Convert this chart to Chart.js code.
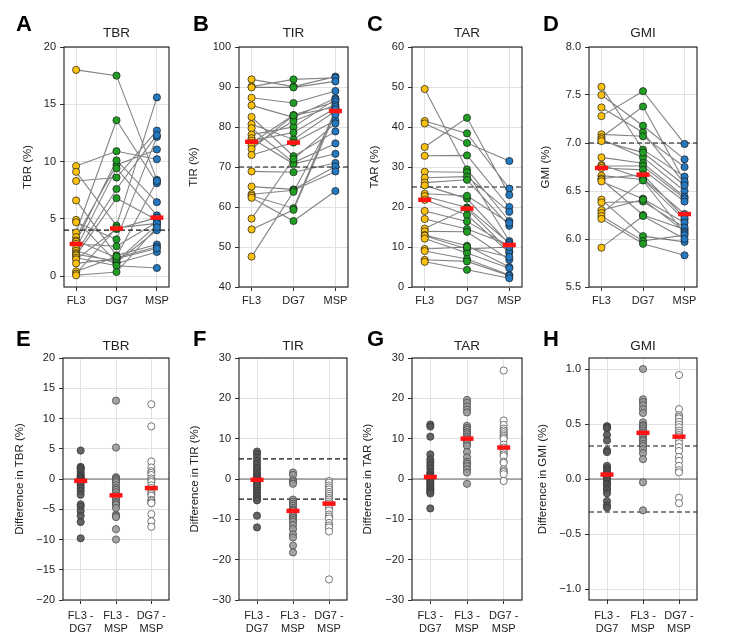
<!DOCTYPE html>
<html>
<head>
<meta charset="utf-8">
<script src="https://cdn.jsdelivr.net/npm/chart.js@4.4.1/dist/chart.umd.min.js"></script>
<style>
  body { margin: 0; background: #fff; }
  .panel { position: absolute; }
</style>
</head>
<body>
<div class="panel" style="left:0;top:0"><canvas id="cA" width="180" height="320"></canvas></div>
<div class="panel" style="left:180px;top:0"><canvas id="cB" width="180" height="320"></canvas></div>
<div class="panel" style="left:360px;top:0"><canvas id="cC" width="180" height="320"></canvas></div>
<div class="panel" style="left:525px;top:0"><canvas id="cD" width="210" height="320"></canvas></div>
<div class="panel" style="left:0;top:320px"><canvas id="cE" width="180" height="321"></canvas></div>
<div class="panel" style="left:180px;top:320px"><canvas id="cF" width="180" height="321"></canvas></div>
<div class="panel" style="left:360px;top:320px"><canvas id="cG" width="180" height="321"></canvas></div>
<div class="panel" style="left:525px;top:320px"><canvas id="cH" width="210" height="321"></canvas></div>
<script>
// categories
const devices = ['FL3', 'DG7', 'MSP'];
const pairs = [['FL3 -', 'DG7'], ['FL3 -', 'MSP'], ['DG7 -', 'MSP']];

// top row: one value per subject, same subject order in each device list
const tbrFL3 = [18.0, 9.6, 9.1, 8.3, 6.6, 4.9, 4.7, 3.8, 3.4, 3.1, 3.0, 2.8, 2.4, 2.2, 2.0, 1.9, 1.8, 1.6, 1.45, 1.1, 0.4, 0.2, 0.06];
const tbrDG7 = [17.5, 10.9, 4.4, 8.6, 1.8, 1.2, 3.2, 13.6, 9.7, 1.6, 10.1, 2.6, 9.4, 1.1, 7.6, 1.3, 6.8, 0.9, 4.1, 1.5, 1.7, 4.2, 0.35];
const tbrMSP = [8.4, 10.2, 15.6, 12.7, 2.75, 4.0, 12.15, 8.1, 11.05, 2.55, 6.45, 4.7, 5.3, 2.1, 12.3, 4.45, 4.9, 0.7, 5.1, 2.4, 8.3, 4.6, 4.25];
const tbrMedians = [2.8, 4.15, 5.1];

const tirFL3 = [91.9, 90.1, 89.9, 87.3, 85.4, 82.5, 80.7, 79.7, 78.1, 77.2, 76.6, 76.0, 75.3, 74.5, 73.0, 68.9, 65.1, 63.2, 62.8, 62.3, 57.1, 54.4, 47.6];
const tirDG7 = [90.1, 91.9, 89.9, 86.0, 82.4, 72.7, 76.9, 71.1, 80.0, 70.8, 78.6, 83.0, 81.5, 82.9, 76.1, 68.7, 64.4, 64.2, 59.7, 56.5, 72.0, 59.3, 63.8];
const tirMSP = [92.6, 92.3, 91.4, 89.0, 87.2, 78.9, 84.0, 75.9, 86.9, 73.3, 84.7, 86.3, 85.5, 85.0, 81.6, 71.0, 70.1, 68.9, 84.4, 64.0, 80.9, 83.5, 83.1];
const tirMedians = [76.3, 76.1, 84.0];

const tarFL3 = [49.5, 41.5, 40.9, 35.0, 32.8, 28.8, 27.3, 26.1, 25.4, 23.3, 22.7, 21.8, 19.0, 17.0, 14.6, 13.9, 13.0, 12.8, 12.1, 9.5, 9.0, 6.8, 6.3];
const tarDG7 = [29.4, 38.4, 36.0, 42.3, 32.9, 28.7, 27.6, 26.8, 22.1, 22.8, 19.9, 18.0, 16.4, 14.5, 19.6, 13.8, 10.3, 9.5, 8.5, 10.0, 7.0, 6.4, 4.3];
const tarMSP = [16.5, 24.6, 31.5, 23.0, 20.0, 11.5, 18.8, 15.3, 10.7, 16.0, 11.0, 8.6, 10.2, 10.5, 9.0, 6.8, 5.0, 10.0, 4.7, 7.5, 3.0, 2.8, 2.2];
const tarMedians = [21.8, 19.6, 10.5];

const gmiFL3 = [7.585, 7.50, 7.37, 7.28, 7.09, 7.06, 7.04, 7.02, 6.85, 6.77, 6.76, 6.74, 6.66, 6.63, 6.62, 6.60, 6.41, 6.38, 6.30, 6.27, 6.24, 6.21, 5.91];
const gmiDG7 = [6.93, 7.18, 7.11, 7.54, 7.07, 7.38, 6.85, 6.90, 6.79, 6.63, 6.76, 6.72, 6.62, 6.67, 6.25, 6.42, 6.03, 6.39, 6.41, 6.61, 5.98, 5.95, 6.24];
const gmiMSP = [6.65, 6.83, 6.58, 6.99, 6.75, 6.60, 6.50, 6.56, 6.44, 6.26, 6.42, 6.39, 6.20, 6.22, 6.10, 6.17, 5.97, 6.12, 6.08, 6.06, 6.04, 5.83, 6.00];
const gmiMedians = [6.74, 6.67, 6.26];

// bottom row: paired differences
const dTbrFL3DG7 = [4.7, 2.0, 1.8, 1.6, 1.2, 0.8, 0.5, 0.3, 0.1, -0.1, -0.2, -0.3, -0.6, -1.0, -1.5, -2.0, -2.6, -4.2, -4.6, -5.3, -6.1, -7.1, -9.8];
const dTbrFL3MSP = [12.95, 5.2, 0.3, 0.1, -0.05, -0.3, -0.55, -1.05, -1.5, -1.8, -2.2, -2.7, -3.0, -3.3, -3.8, -4.0, -4.3, -4.8, -5.9, -6.1, -6.3, -8.3, -10.0];
const dTbrDG7MSP = [12.35, 8.7, 2.9, 1.9, 1.3, 1.0, 0.65, 0.1, -0.2, -0.5, -1.05, -1.5, -1.8, -2.2, -2.5, -2.8, -3.45, -3.6, -3.9, -4.0, -5.8, -7.0, -7.9];
const dTbrMedians = [-0.3, -2.7, -1.5];

const dTirFL3DG7 = [6.8, 6.2, 5.3, 4.5, 3.7, 2.8, 2.3, 1.5, 0.9, 0.4, -0.1, -0.2, -0.5, -1.0, -1.6, -2.2, -2.9, -3.5, -4.2, -4.8, -5.3, -9.1, -12.0];
const dTirFL3MSP = [1.6, 1.0, -0.3, -0.75, -1.2, -5.1, -5.6, -6.1, -6.6, -7.2, -7.6, -7.9, -8.8, -9.2, -9.7, -10.1, -10.6, -11.4, -12.4, -13.7, -14.5, -16.5, -18.2];
const dTirDG7MSP = [-0.5, -0.9, -1.6, -2.1, -2.6, -3.2, -3.7, -4.2, -4.7, -5.1, -5.6, -6.1, -6.6, -7.2, -7.8, -8.8, -9.3, -9.8, -10.9, -11.5, -12.0, -13.0, -24.9];
const dTirMedians = [-0.2, -7.9, -6.1];

const dTarFL3DG7 = [13.5, 13.0, 10.5, 6.1, 4.9, 4.1, 3.3, 2.6, 1.7, 1.2, 0.8, 0.5, 0.2, -0.1, -0.5, -0.9, -1.4, -1.9, -2.4, -2.8, -3.2, -3.6, -7.3];
const dTarFL3MSP = [19.6, 18.9, 18.0, 17.2, 16.5, 13.2, 12.7, 12.2, 11.6, 11.1, 10.5, 10.0, 9.5, 8.8, 8.2, 6.7, 5.4, 4.3, 3.8, 3.2, 2.4, 1.6, -1.2];
const dTarDG7MSP = [26.9, 14.5, 13.4, 12.5, 12.0, 11.6, 11.1, 10.7, 10.3, 9.9, 8.5, 7.8, 7.2, 6.6, 6.1, 5.7, 4.3, 4.0, 2.4, 2.0, 1.7, 1.2, -0.5];
const dTarMedians = [0.5, 10.0, 7.8];

const dGmiFL3DG7 = [0.48, 0.47, 0.46, 0.40, 0.35, 0.26, 0.245, 0.12, 0.10, 0.08, 0.06, 0.04, 0.02, 0.01, -0.02, -0.04, -0.05, -0.08, -0.10, -0.13, -0.20, -0.24, -0.26];
const dGmiFL3MSP = [1.0, 0.725, 0.70, 0.67, 0.635, 0.60, 0.515, 0.49, 0.48, 0.46, 0.44, 0.42, 0.40, 0.385, 0.36, 0.345, 0.32, 0.30, 0.27, 0.235, 0.18, -0.03, -0.285];
const dGmiDG7MSP = [0.945, 0.635, 0.58, 0.565, 0.55, 0.52, 0.495, 0.47, 0.44, 0.42, 0.40, 0.385, 0.35, 0.325, 0.29, 0.255, 0.20, 0.165, 0.12, 0.08, 0.06, -0.17, -0.22];
const dGmiMedians = [0.04, 0.42, 0.385];

const deviceColors = ['#fcc10f', '#1f9e23', '#2479c1'];
const diffFills = ['rgba(85,85,85,0.9)', 'rgba(155,155,155,0.9)', '#ffffff'];
const diffEdges = ['#383838', '#4a4a4a', '#555555'];

const fontFamily = "'Liberation Sans', Arial, Helvetica, sans-serif";
Chart.defaults.font.family = fontFamily;
Chart.defaults.font.size = 11;
Chart.defaults.color = '#222';

// letters, titles, y titles
const panelText = {
  id: 'panelText',
  afterDraw(chart, args, opts) {
    const { ctx, chartArea: a } = chart;
    ctx.save();
    ctx.fillStyle = '#000';
    ctx.font = `bold 22px ${fontFamily}`;
    ctx.textAlign = 'left';
    ctx.textBaseline = 'alphabetic';
    ctx.fillText(opts.letter, opts.letterX, opts.letterY);
    ctx.fillStyle = '#222';
    ctx.font = `13.5px ${fontFamily}`;
    ctx.textAlign = 'center';
    ctx.fillText(opts.title, (a.left + a.right) / 2, a.top - opts.titleGap);
    ctx.translate(a.left - opts.yTitleOffset, (a.top + a.bottom) / 2);
    ctx.rotate(-Math.PI / 2);
    ctx.textBaseline = 'middle';
    ctx.font = `11.5px ${fontFamily}`;
    ctx.fillText(opts.yTitle, 0, 0);
    ctx.restore();
  }
};

// reference lines and the axes box
const guides = {
  id: 'guides',
  beforeDatasetsDraw(chart, args, opts) {
    const { ctx, chartArea: a, scales: { y } } = chart;
    ctx.save();
    (opts.lines || []).forEach(g => {
      const py = y.getPixelForValue(g.value);
      ctx.beginPath();
      ctx.setLineDash(g.dash);
      ctx.strokeStyle = g.color;
      ctx.lineWidth = g.width;
      ctx.moveTo(a.left, py);
      ctx.lineTo(a.right, py);
      ctx.stroke();
    });
    ctx.restore();
  },
  afterDatasetsDraw(chart) {
    const { ctx, chartArea: a } = chart;
    ctx.save();
    ctx.strokeStyle = '#1a1a1a';
    ctx.lineWidth = 1.1;
    ctx.strokeRect(a.left, a.top, a.right - a.left, a.bottom - a.top);
    ctx.restore();
  }
};

function fmtTick(decimals) {
  return v => {
    const s = Math.abs(v).toFixed(decimals);
    return v < 0 ? '\u2212' + s : s;
  };
}

function medianDataset(medians) {
  return {
    data: medians.map((m, k) => ({ x: k, y: m })),
    pointStyle: 'line',
    pointRadius: 6.5,
    pointBorderWidth: 4.5,
    pointBorderColor: '#ff1414',
    pointBackgroundColor: '#ff1414'
  };
}

function pairedDatasets(series, medians) {
  const links = [];
  series[0].forEach((v, i) => {
    series.forEach((s, k) => links.push({ x: k, y: s[i] }));
    links.push({ x: 2, y: null });
  });
  const points = [];
  const fills = [];
  series.forEach((s, k) => s.forEach(v => {
    points.push({ x: k, y: v });
    fills.push(deviceColors[k]);
  }));
  return [
    medianDataset(medians),
    { data: points, pointRadius: 3.6, pointBackgroundColor: fills, pointBorderColor: '#1a1a1a', pointBorderWidth: 0.7 },
    { data: links, showLine: true, spanGaps: false, pointRadius: 0, borderColor: 'rgba(55,55,55,0.62)', borderWidth: 1.1 }
  ];
}

function diffDatasets(series, medians) {
  const points = [];
  const fills = [];
  const edges = [];
  series.forEach((s, k) => s.forEach(v => {
    points.push({ x: k, y: v });
    fills.push(diffFills[k]);
    edges.push(diffEdges[k]);
  }));
  return [
    medianDataset(medians),
    { data: points, pointRadius: 3.6, pointBackgroundColor: fills, pointBorderColor: edges, pointBorderWidth: 0.8 }
  ];
}

function makePanel(p) {
  const top = p.canvasY === 0;
  const labels = top ? devices : pairs;
  const canvas = document.getElementById(p.id);
  return new Chart(canvas, {
    type: 'scatter',
    data: { datasets: p.datasets },
    plugins: [panelText, guides],
    options: {
      responsive: false,
      animation: false,
      events: [],
      layout: {
        padding: { left: 0, top: p.plot.t - p.canvasY, right: p.canvasX + canvas.width - p.plot.r, bottom: 0 }
      },
      scales: {
        x: {
          type: 'linear',
          min: top ? -0.3 : -0.5,
          max: top ? 2.3 : 2.5,
          afterBuildTicks: s => { s.ticks = [0, 1, 2].map(v => ({ value: v })); },
          afterFit: s => { s.height = p.canvasY + canvas.height - p.plot.b; },
          ticks: { callback: v => labels[v], padding: top ? 3 : 5, maxRotation: 0, autoSkip: false, color: '#222' },
          grid: { color: '#e1e1e1', tickColor: '#333', tickLength: 4 },
          border: { display: false }
        },
        y: {
          min: p.yMin,
          max: p.yMax,
          afterFit: s => { s.width = p.plot.l - p.canvasX; },
          ticks: { stepSize: p.step, includeBounds: false, padding: 4, callback: fmtTick(p.decimals), color: '#222' },
          grid: { color: '#e1e1e1', tickColor: '#333', tickLength: 4 },
          border: { display: false }
        }
      },
      plugins: {
        legend: { display: false },
        tooltip: { enabled: false },
        guides: { lines: p.lines },
        panelText: {
          letter: p.letter, letterX: p.letterX - p.canvasX, letterY: p.letterY - p.canvasY,
          title: p.title, titleGap: top ? 10 : 8,
          yTitle: p.yTitle, yTitleOffset: p.yTitleOffset
        }
      }
    }
  });
}

const dashed = v => ({ value: v, dash: [5, 3], color: '#111', width: 1.2 });
const zero = { value: 0, dash: [], color: '#666', width: 1.1 };

makePanel({ id: 'cA', canvasX: 0, canvasY: 0, plot: { l: 64, r: 172, t: 47, b: 287 },
  yMin: -0.96, yMax: 20, step: 5, decimals: 0, lines: [dashed(4)],
  letter: 'A', letterX: 16, letterY: 31, title: 'TBR', yTitle: 'TBR (%)', yTitleOffset: 36,
  datasets: pairedDatasets([tbrFL3, tbrDG7, tbrMSP], tbrMedians) });
makePanel({ id: 'cB', canvasX: 180, canvasY: 0, plot: { l: 239, r: 348, t: 47, b: 287 },
  yMin: 40, yMax: 100, step: 10, decimals: 0, lines: [dashed(70)],
  letter: 'B', letterX: 193, letterY: 31, title: 'TIR', yTitle: 'TIR (%)', yTitleOffset: 45,
  datasets: pairedDatasets([tirFL3, tirDG7, tirMSP], tirMedians) });
makePanel({ id: 'cC', canvasX: 360, canvasY: 0, plot: { l: 412, r: 522, t: 47, b: 287 },
  yMin: 0, yMax: 60, step: 10, decimals: 0, lines: [dashed(25)],
  letter: 'C', letterX: 367, letterY: 31, title: 'TAR', yTitle: 'TAR (%)', yTitleOffset: 37,
  datasets: pairedDatasets([tarFL3, tarDG7, tarMSP], tarMedians) });
makePanel({ id: 'cD', canvasX: 525, canvasY: 0, plot: { l: 589, r: 697, t: 47, b: 287 },
  yMin: 5.5, yMax: 8.0, step: 0.5, decimals: 1, lines: [dashed(7.0)],
  letter: 'D', letterX: 543, letterY: 31, title: 'GMI', yTitle: 'GMI (%)', yTitleOffset: 43,
  datasets: pairedDatasets([gmiFL3, gmiDG7, gmiMSP], gmiMedians) });

makePanel({ id: 'cE', canvasX: 0, canvasY: 320, plot: { l: 63, r: 172, t: 358, b: 600 },
  yMin: -20, yMax: 20, step: 5, decimals: 0, lines: [zero],
  letter: 'E', letterX: 16, letterY: 346, title: 'TBR', yTitle: 'Difference in TBR (%)', yTitleOffset: 43,
  datasets: diffDatasets([dTbrFL3DG7, dTbrFL3MSP, dTbrDG7MSP], dTbrMedians) });
makePanel({ id: 'cF', canvasX: 180, canvasY: 320, plot: { l: 239, r: 347, t: 358, b: 600 },
  yMin: -30, yMax: 30, step: 10, decimals: 0, lines: [zero, dashed(5), dashed(-5)],
  letter: 'F', letterX: 193, letterY: 346, title: 'TIR', yTitle: 'Difference in TIR (%)', yTitleOffset: 44,
  datasets: diffDatasets([dTirFL3DG7, dTirFL3MSP, dTirDG7MSP], dTirMedians) });
makePanel({ id: 'cG', canvasX: 360, canvasY: 320, plot: { l: 412, r: 522, t: 358, b: 600 },
  yMin: -30, yMax: 30, step: 10, decimals: 0, lines: [zero],
  letter: 'G', letterX: 367, letterY: 346, title: 'TAR', yTitle: 'Difference in TAR (%)', yTitleOffset: 44,
  datasets: diffDatasets([dTarFL3DG7, dTarFL3MSP, dTarDG7MSP], dTarMedians) });
makePanel({ id: 'cH', canvasX: 525, canvasY: 320, plot: { l: 589, r: 697, t: 358, b: 600 },
  yMin: -1.1, yMax: 1.1, step: 0.5, decimals: 1, lines: [zero, dashed(0.3), dashed(-0.3)],
  letter: 'H', letterX: 543, letterY: 346, title: 'GMI', yTitle: 'Difference in GMI (%)', yTitleOffset: 46,
  datasets: diffDatasets([dGmiFL3DG7, dGmiFL3MSP, dGmiDG7MSP], dGmiMedians) });
</script>
</body>
</html>
